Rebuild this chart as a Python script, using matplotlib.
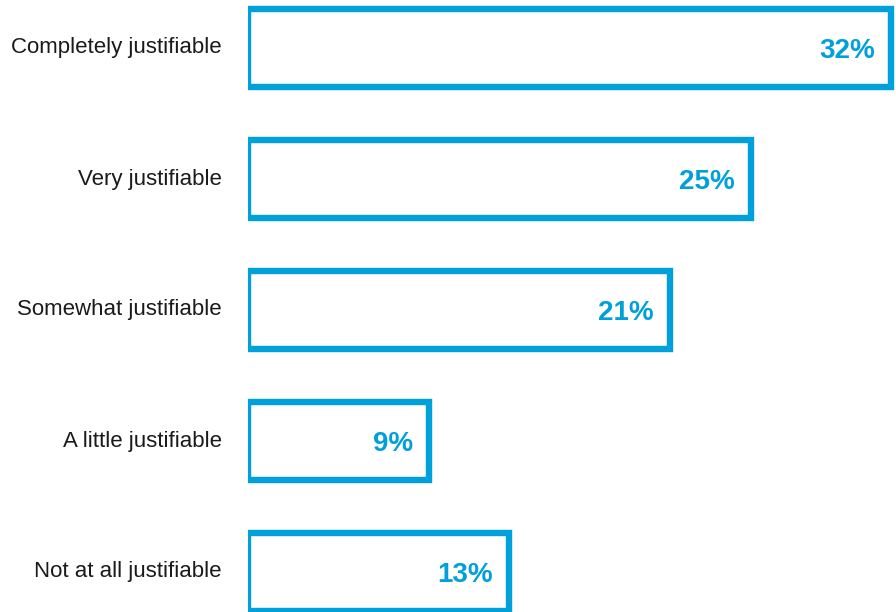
import matplotlib.pyplot as plt
from matplotlib.patches import Rectangle
from matplotlib import font_manager

BLUE = "#00A0DB"
TEXT = "#1A1A1A"

categories = [
    "Completely justifiable",
    "Very justifiable",
    "Somewhat justifiable",
    "A little justifiable",
    "Not at all justifiable",
]
shares = [32, 25, 21, 9, 13]

names = {f.name for f in font_manager.fontManager.ttflist}
family = ["Liberation Sans Narrow", "DejaVu Sans"] if "Liberation Sans Narrow" in names else ["Liberation Sans", "DejaVu Sans"]
plt.rcParams["font.family"] = family

fig = plt.figure(figsize=(8.96, 6.12), dpi=100)
# axes span from the bars' baseline to the right edge of the figure
left_px, px_per_pct = 248, 20.1
ax = fig.add_axes([left_px / 896, 0, 1 - left_px / 896, 1])
ax.set_xlim(0, (896 - left_px) / px_per_pct)
ax.set_ylim(4 + 40 / 131, -48 / 131)
ax.axis("off")

bar_h = 0.59
for i, (cat, v) in enumerate(zip(categories, shares)):
    ax.add_patch(Rectangle((0, i - bar_h / 2), v, bar_h, facecolor="white",
                           edgecolor=BLUE, linewidth=4.6, joinstyle="miter",
                           clip_on=True))
    ax.text(v - 0.8, i + 0.02, f"{v}%", ha="right", va="center",
            fontsize=20, fontweight="bold", color=BLUE)
    ax.text(-1.3, i, cat, ha="right", va="center", fontsize=16,
            color=TEXT, clip_on=False)

fig.savefig("out.png", dpi=100, facecolor="white")
